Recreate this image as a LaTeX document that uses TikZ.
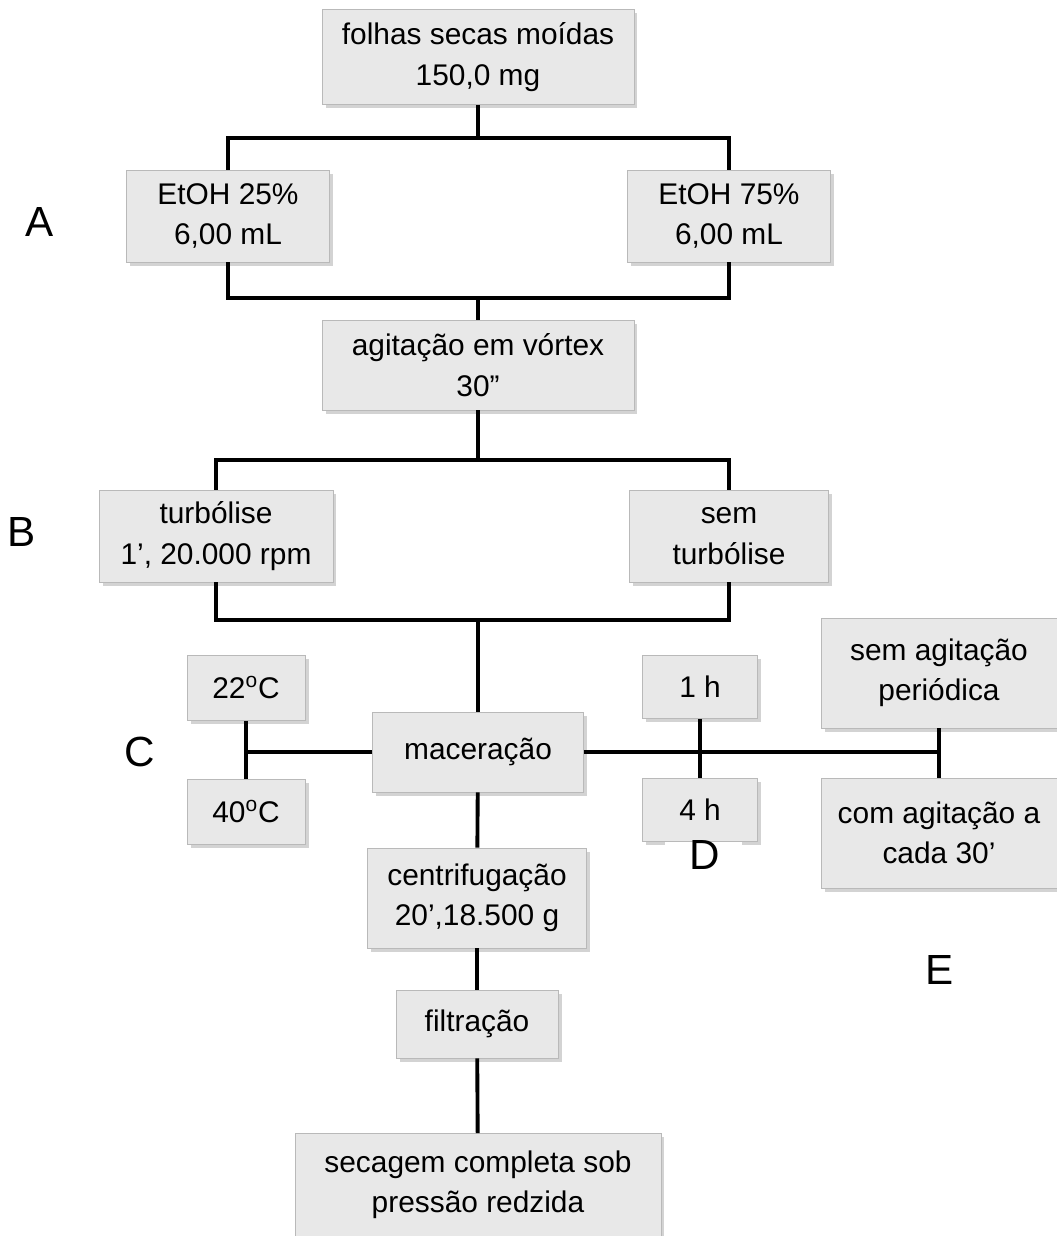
\documentclass[tikz,border=0pt]{standalone}
\usepackage{fontspec}
\setmainfont{Liberation Sans}
\usetikzlibrary{shadows}

\begin{document}
\begin{tikzpicture}[
  x=0.02cm, y=-0.02cm,
  box/.style={draw=gray!55, fill=gray!18, align=center, inner sep=2pt,
    font=\fontsize{17}{23}\selectfont,
    drop shadow={opacity=0.35, shadow xshift=2pt, shadow yshift=-2pt}},
  link/.style={line width=2.2pt, black},
  tag/.style={font=\fontsize{24}{28}\selectfont}
]
\useasboundingbox (0,0) rectangle (1057,1236);

\node[box, minimum width=6.24cm, minimum height=1.9cm] (folhas) at (478,57) {folhas secas moídas\\150,0 mg};
\node[box, minimum width=4.06cm, minimum height=1.84cm] (et25) at (228,216) {EtOH 25\%\\6,00 mL};
\node[box, minimum width=4.06cm, minimum height=1.84cm] (et75) at (729,216) {EtOH 75\%\\6,00 mL};
\node[box, minimum width=6.24cm, minimum height=1.8cm] (vortex) at (478,365) {agitação em vórtex\\30”};
\node[box, minimum width=4.68cm, minimum height=1.84cm] (turbo) at (216,536) {turbólise\\1’, 20.000 rpm};
\node[box, minimum width=3.98cm, minimum height=1.84cm] (semturbo) at (729,536) {sem\\turbólise};
\node[box, minimum width=2.36cm, minimum height=1.3cm] (t22) at (246,688) {22\textsuperscript{o}C};
\node[box, minimum width=2.36cm, minimum height=1.3cm] (t40) at (246,812) {40\textsuperscript{o}C};
\node[box, minimum width=4.22cm, minimum height=1.6cm] (macer) at (478,752) {maceração};
\node[box, minimum width=2.3cm, minimum height=1.26cm] (h1) at (700,687) {1 h};
\node[box, minimum width=2.3cm, minimum height=1.26cm] (h4) at (700,810) {4 h};
\node[box, minimum width=4.72cm, minimum height=2.2cm] (semagit) at (939,673) {sem agitação\\periódica};
\node[box, minimum width=4.72cm, minimum height=2.2cm] (comagit) at (939,833) {com agitação a\\cada 30’};
\node[box, minimum width=4.38cm, minimum height=2cm] (centri) at (477,898) {centrifugação\\20’,18.500 g};
\node[box, minimum width=3.24cm, minimum height=1.36cm] (filtr) at (477,1024) {filtração};
\node[box, minimum width=7.32cm, minimum height=2.06cm] (secag) at (478,1185) {secagem completa sob\\pressão redzida};

% white patch under the 4 h box
\fill[white] (665,842) rectangle (742,853);

% junctions
\coordinate (j1) at (478,138);
\coordinate (j2) at (478,298);
\coordinate (j3) at (478,460);
\coordinate (j4) at (478,620);
\coordinate (jc) at (246,752);
\coordinate (je) at (939,752);

\draw[link] (folhas) -- (j1);
\draw[link] (et25.north) |- (j1) -| (et75.north);
\draw[link] (et25.south) |- (j2) -| (et75.south);
\draw[link] (j2) -- (vortex);
\draw[link] (vortex) -- (j3);
\draw[link] (turbo.north) |- (j3) -| (semturbo.north);
\draw[link] (turbo.south) |- (j4) -| (semturbo.south);
\draw[link] (j4) -- (macer);
\draw[link] (macer) -- (jc);
\draw[link] (t22) -- (t40);
\draw[link] (macer) -- (je);
\draw[link] (h1) -- (h4);
\draw[link] (semagit) -- (comagit);
\draw[link] (macer) -- (centri);
\draw[link] (centri) -- (filtr);
\draw[link] (filtr) -- (secag);

\node[tag] (la) at (40,222) {A};
\node[tag] (lb) at (22,532) {B};
\node[tag] (lc) at (140,752) {C};
\node[tag] (ld) at (705,855) {D};
\node[tag] (le) at (940,970) {E};
\end{tikzpicture}
\end{document}
